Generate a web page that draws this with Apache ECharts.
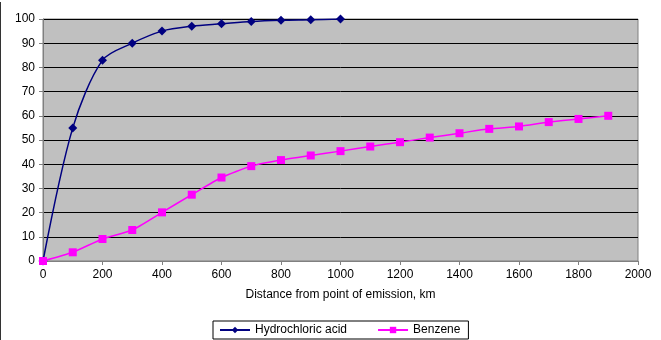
<!DOCTYPE html>
<html>
<head>
<meta charset="utf-8">
<script src="https://cdn.jsdelivr.net/npm/echarts@6/dist/echarts.min.js"></script>
<style>
  html, body { margin: 0; padding: 0; background: #fff; }
  #chart { width: 661px; height: 340px; }
  #edge { position: absolute; left: 0; top: 2px; width: 1px; height: 338px; background: #333; }
</style>
</head>
<body>
<div id="edge"></div>
<div id="chart"></div>
<script>
const distances = [0, 100, 200, 300, 400, 500, 600, 700, 800, 900, 1000, 1100, 1200, 1300, 1400, 1500, 1600, 1700, 1800, 1900];
const hclValues = [0, 55, 83, 90, 95, 97, 98, 99, 99.5, 99.7, 100];
const benzeneValues = [0, 3.6, 9.1, 12.8, 20.1, 27.4, 34.5, 39.2, 41.7, 43.6, 45.4, 47.3, 49.1, 51, 52.8, 54.6, 55.6, 57.4, 58.7, 60];

const font = 'Liberation Sans, Arial, sans-serif';

function pairs(vals) {
  return vals.map((v, i) => [distances[i], v]);
}

const chart = echarts.init(document.getElementById('chart'));
chart.setOption({
  animation: false,
  textStyle: { fontFamily: font },
  grid: {
    left: 43, right: 23, top: 19, bottom: 79,
    show: true, backgroundColor: '#c0c0c0', borderColor: '#808080', borderWidth: 1
  },
  legend: {
    bottom: 1, left: 213,
    borderColor: '#000', borderWidth: 1, padding: [3, 8, 3, 6],
    itemWidth: 30, itemHeight: 8, itemGap: 30,
    textStyle: { fontSize: 12, color: '#000', fontFamily: font },
    data: ['Hydrochloric acid', 'Benzene']
  },
  xAxis: {
    type: 'value', min: 0, max: 2000, interval: 200,
    name: 'Distance from point of emission, km', nameLocation: 'middle', nameGap: 28,
    nameTextStyle: { fontSize: 12, color: '#000', fontFamily: font },
    axisLine: { lineStyle: { color: '#808080' } },
    axisTick: { show: true, length: 4, lineStyle: { color: '#808080' } },
    axisLabel: { fontSize: 12, color: '#000', margin: 8, formatter: v => String(v) },
    splitLine: { show: false }
  },
  yAxis: {
    type: 'value', min: 0, max: 100, interval: 10,
    axisLine: { show: true, lineStyle: { color: '#808080' } },
    axisTick: { show: true, length: 4, lineStyle: { color: '#808080' } },
    axisLabel: { fontSize: 12, color: '#000', margin: 8 },
    splitLine: { show: true, lineStyle: { color: '#000', width: 1 } }
  },
  series: [
    {
      name: 'Hydrochloric acid', type: 'line', data: pairs(hclValues),
      smooth: 0.3, symbol: 'diamond', symbolSize: 9,
      lineStyle: { color: '#000080', width: 1.5 },
      itemStyle: { color: '#000080' }
    },
    {
      name: 'Benzene', type: 'line', data: pairs(benzeneValues),
      smooth: 0.2, symbol: 'rect', symbolSize: 8,
      lineStyle: { color: '#ff00ff', width: 1.5 },
      itemStyle: { color: '#ff00ff' }
    }
  ]
});
</script>
</body>
</html>
